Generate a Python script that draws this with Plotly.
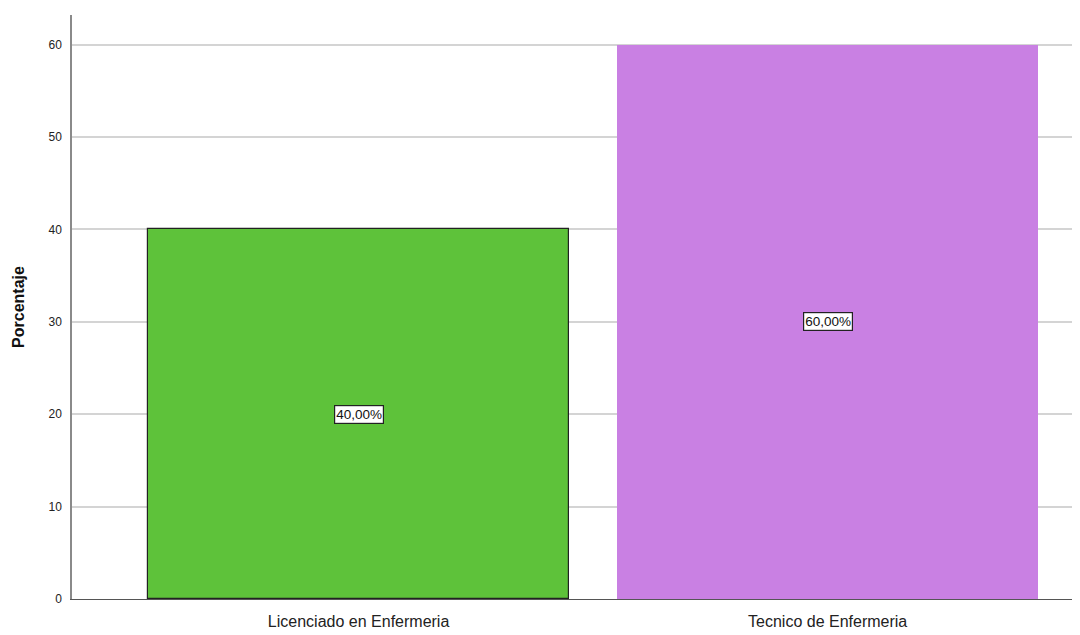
import plotly.graph_objects as go

categories = ["Licenciado en Enfermeria", "Tecnico de Enfermeria"]
values = [40.0, 60.0]
labels = ["40,00%", "60,00%"]
y_ticks = [0, 10, 20, 30, 40, 50, 60]
colors = ["#5ec23a", "#c980e3"]
outline = ["#222222", "#c980e3"]

fig = go.Figure()
fig.add_trace(go.Bar(
    x=[0, 1], y=values, width=0.898,
    marker=dict(color=colors, line=dict(color=outline, width=[1.2, 0])),
    hoverinfo="skip", showlegend=False,
))

for i, (v, t) in enumerate(zip(values, labels)):
    fig.add_annotation(
        x=i, y=v / 2, text=t, showarrow=False,
        font=dict(family="Liberation Sans, Arial", size=13.5, color="#111111"),
        bgcolor="white", bordercolor="#222222", borderwidth=1.2, borderpad=1,
    )

fig.update_layout(
    width=1072, height=627,
    margin=dict(l=64, r=0, t=7, b=36),
    paper_bgcolor="white", plot_bgcolor="white",
    font=dict(family="Liberation Sans, Arial", color="#222222"),
    bargap=0,
)
fig.update_xaxes(
    tickmode="array", tickvals=[0, 1], ticktext=categories,
    range=[-0.611, 1.538],
    tickfont=dict(size=16, color="#222222"),
    showgrid=False, zeroline=False,
    showline=True, linecolor="#555555", linewidth=1,
    ticks="", ticklabelstandoff=8,
)
fig.update_yaxes(
    tickmode="array", tickvals=y_ticks,
    range=[0, 63.2],
    tickfont=dict(size=12, color="#222222"),
    showgrid=True, gridcolor="#d4d4d4", gridwidth=1.5,
    zeroline=False,
    showline=True, linecolor="#8a8a8a", linewidth=1.5,
    ticks="", ticklabelstandoff=6,
    title=dict(text="<b>Porcentaje</b>", font=dict(size=16, color="#111111"), standoff=20),
)

fig.write_html("out.html")
